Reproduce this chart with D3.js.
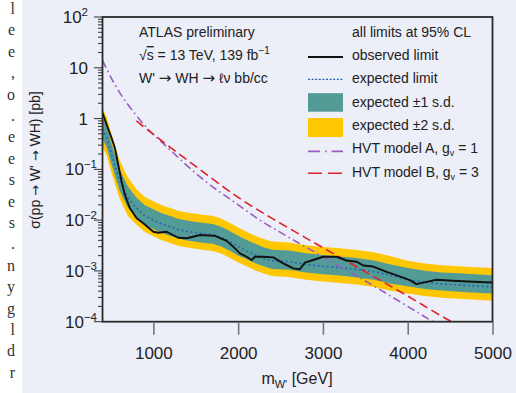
<!DOCTYPE html>
<html lang="en">
<head>
<meta charset="UTF-8">
<title>W' to WH limits</title>
<style>
  body { margin: 0; background: #fff; }
  svg { display: block; font-family: "Liberation Sans", Arial, sans-serif; }
</style>
</head>
<body>
<div id="chart"></div>
<script src="https://d3js.org/d3.v7.min.js"></script>
<script>
// expected limit + bands (pb)
const massGrid = [400, 450, 500, 550, 600, 650, 700, 800, 900, 1000, 1100, 1200, 1300, 1400, 1500, 1600, 1700, 1800, 1900, 2000,
  2100, 2200, 2300, 2400, 2600, 2800, 3000, 3200, 3400, 3600, 3800, 4000, 4200, 4400, 4600, 4800, 5000];
const expected = [0.63, 0.425, 0.214, 0.114, 0.0617, 0.0407, 0.0277, 0.0172, 0.0122, 0.0100, 0.0084, 0.0074, 0.0065, 0.0060, 0.0057, 0.0054, 0.0052, 0.0046, 0.0038, 0.00305,
  0.00245, 0.00206, 0.00177, 0.00158, 0.00152, 0.00134, 0.00124, 0.00116, 0.00108, 0.00097, 0.00081, 0.00067, 0.00060, 0.00055, 0.00053, 0.000505, 0.000485];
const plus1 = [1.05, 0.705, 0.355, 0.189, 0.102, 0.0676, 0.046, 0.0279, 0.0197, 0.0163, 0.0136, 0.0120, 0.0105, 0.0098, 0.0092, 0.00875, 0.0084, 0.00745, 0.00614, 0.00494,
  0.00407, 0.00341, 0.00294, 0.00262, 0.00252, 0.00222, 0.00206, 0.00193, 0.00179, 0.00161, 0.00134, 0.00114, 0.00101, 0.00093, 0.00090, 0.00086, 0.00082];
const minus1 = [0.40, 0.268, 0.135, 0.072, 0.0389, 0.0257, 0.0175, 0.0114, 0.00804, 0.00664, 0.00556, 0.00489, 0.0043, 0.00399, 0.00375, 0.00356, 0.00343, 0.00303, 0.0025, 0.00201,
  0.0017, 0.00142, 0.00123, 0.00109, 0.00105, 0.00093, 0.00086, 0.00081, 0.00074, 0.00067, 0.00056, 0.00050, 0.00044, 0.00041, 0.00039, 0.00037, 0.00036];
const plus2 = [1.58, 1.07, 0.537, 0.286, 0.155, 0.102, 0.0697, 0.0404, 0.0285, 0.0236, 0.0197, 0.0173, 0.0152, 0.0142, 0.0133, 0.0126, 0.0122, 0.0108, 0.00887, 0.00714,
  0.00589, 0.00493, 0.00426, 0.00378, 0.00364, 0.00321, 0.00297, 0.00279, 0.00258, 0.00232, 0.00194, 0.00158, 0.0014, 0.00129, 0.00124, 0.00118, 0.00114];
const minus2 = [0.275, 0.185, 0.0933, 0.0498, 0.0269, 0.0178, 0.0121, 0.00824, 0.00582, 0.00481, 0.00403, 0.00354, 0.00311, 0.00289, 0.00272, 0.00258, 0.00248, 0.0022, 0.00181, 0.00146,
  0.00123, 0.00103, 0.00089, 0.00079, 0.00076, 0.00067, 0.00062, 0.00058, 0.00054, 0.000485, 0.000405, 0.00036, 0.00032, 0.000295, 0.000284, 0.000271, 0.00026];

// observed limit
const obsMass = [400, 450, 508, 547, 586, 626, 665, 724, 803, 881, 999, 1058, 1157, 1294, 1393, 1550, 1726, 1864, 1942, 2021, 2100, 2159, 2198,
  2296, 2414, 2532, 2650, 2728, 2787, 2885, 3003, 3161, 3279, 3397, 3475, 3593, 3751, 3946, 4025, 4104, 4222, 4340, 4536, 4772, 5000];
const observed = [1.3, 0.75, 0.41, 0.26, 0.122, 0.057, 0.031, 0.0171, 0.0109, 0.0087, 0.0059, 0.00565, 0.0059, 0.0045, 0.0044, 0.0051, 0.0049, 0.0039, 0.0030, 0.00222, 0.0019, 0.00164, 0.0019,
  0.0019, 0.00185, 0.00141, 0.00112, 0.00108, 0.00146, 0.00164, 0.0019, 0.0019, 0.0016, 0.00152, 0.00128, 0.00122, 0.00096, 0.00074, 0.00066, 0.00055, 0.00061, 0.00067, 0.00064, 0.00061, 0.00059];

// HVT theory curves
const hvtAMass = [400, 536, 842, 1200, 1550, 2000, 2257, 2493, 3000, 3319, 4000, 4297, 4500];
const hvtA = [14, 5.0, 0.94, 0.24, 0.071, 0.020, 0.010, 0.0058, 0.0019, 0.00095, 0.0002, 0.0001, 0.000063];
const hvtBMass = [800, 1000, 1526, 2045, 2493, 3319, 4000, 4518, 4700];
const hvtB = [0.9, 0.49, 0.106, 0.025, 0.0088, 0.00143, 0.00032, 0.0001, 0.00007];

const xTicks = [1000, 2000, 3000, 4000, 5000];
const yMajor = [-4, -3, -2, -1, 0, 1, 2];
const legendLabels = ["all limits at 95% CL", "observed limit", "expected limit", "expected \u00b11 s.d.", "expected \u00b12 s.d.", "HVT model A, g", "HVT model B, g"];
const pageText = ["l", "e", "e", ",", "o", ".", "e", "e", "s", "e", "s", ".", "n", "y", "g", "l", "d", "r"];

const width = 516, height = 393;
const pLeft = 102.5, pRight = 492.5, pTop = 17, pBottom = 321.7;

const teal = "#529b96", yellow = "#ffc702", blue = "#2664b4", red = "#e0232b", purple = "#9a5cc0";

const svg = d3.select("#chart").append("svg")
  .attr("width", width)
  .attr("height", height);

// writes a string into a text node, arrows taken from DejaVu (Liberation's are tiny)
function withArrows(sel, str, arrowSize) {
  str.split("\u2192").forEach((part, i) => {
    if (i > 0) sel.append("tspan").attr("font-family", "'DejaVu Sans', sans-serif")
      .attr("font-size", arrowSize).text("\u2192");
    sel.append("tspan").text(part);
  });
}

// page background + white strip with bits of the paper text
svg.append("rect").attr("width", width).attr("height", height).attr("fill", "#fff");
svg.append("rect").attr("x", 22).attr("width", width - 22).attr("height", height).attr("fill", "#eceef8");
svg.append("g")
  .attr("font-family", "'Liberation Serif', 'DejaVu Serif', serif")
  .attr("font-size", 16)
  .attr("fill", "#333")
  .attr("text-anchor", "end")
  .selectAll("text")
  .data(pageText)
  .join("text")
  .attr("x", 15)
  .attr("y", (d, i) => 14 + i * 21.4)
  .text(d => d);

const x = d3.scaleLinear().domain([400, 5000]).range([pLeft, pRight]);
const y = d3.scaleLog().domain([1e-4, 1e2]).range([pBottom, pTop]);

svg.append("clipPath").attr("id", "clip")
  .append("rect").attr("x", pLeft).attr("y", pTop).attr("width", pRight - pLeft).attr("height", pBottom - pTop);

const plot = svg.append("g").attr("clip-path", "url(#clip)");
const idx = d3.range(massGrid.length);

const band = (lo, hi) => d3.area()
  .x(i => x(massGrid[i]))
  .y0(i => y(lo[i]))
  .y1(i => y(hi[i]));

plot.append("path").attr("d", band(minus2, plus2)(idx)).attr("fill", yellow);
plot.append("path").attr("d", band(minus1, plus1)(idx)).attr("fill", teal);

const line = (ms, vs, curve) => d3.line()
  .x(i => x(ms[i]))
  .y(i => y(vs[i]))
  .curve(curve || d3.curveLinear)(d3.range(ms.length));

plot.append("path")
  .attr("d", line(massGrid, expected))
  .attr("fill", "none").attr("stroke", blue).attr("stroke-width", 1.6)
  .attr("stroke-dasharray", "2,2.6");

plot.append("path")
  .attr("d", line(hvtAMass, hvtA, d3.curveMonotoneX))
  .attr("fill", "none").attr("stroke", purple).attr("stroke-width", 1.6)
  .attr("stroke-dasharray", "8,3.5,1.6,3.5");

plot.append("path")
  .attr("d", line(hvtBMass, hvtB, d3.curveMonotoneX))
  .attr("fill", "none").attr("stroke", red).attr("stroke-width", 1.6)
  .attr("stroke-dasharray", "9,4.5");

plot.append("path")
  .attr("d", line(obsMass, observed))
  .attr("fill", "none").attr("stroke", "#111").attr("stroke-width", 1.9)
  .attr("stroke-linejoin", "round");

// frame
svg.append("rect")
  .attr("x", pLeft).attr("y", pTop).attr("width", pRight - pLeft).attr("height", pBottom - pTop)
  .attr("fill", "none").attr("stroke", "#2a2a2a").attr("stroke-width", 1.8);

// x axis
const xAxis = svg.append("g")
  .attr("transform", `translate(0,${pBottom})`)
  .call(d3.axisBottom(x).tickValues(xTicks).tickSize(13).tickPadding(12).tickFormat(d3.format("d")));
xAxis.select(".domain").remove();
xAxis.selectAll(".tick line").attr("stroke", "#777").attr("stroke-width", 1.6);
xAxis.selectAll(".tick text")
  .attr("font-size", 17).attr("fill", "#222")
  .attr("font-family", "'Liberation Sans', Arial, sans-serif");

// y axis: major + minor ticks by hand from the log scale
const yAxis = svg.append("g");
yAxis.selectAll("line")
  .data(y.ticks())
  .join("line")
  .attr("x1", d => {
    const m = d / Math.pow(10, Math.floor(Math.log10(d) + 1e-9));
    return Math.abs(m - 1) < 1e-6 ? pLeft - 8.5 : pLeft - 4.5;
  })
  .attr("x2", pLeft)
  .attr("y1", d => y(d)).attr("y2", d => y(d))
  .attr("stroke", "#333").attr("stroke-width", 1);

const yLab = yAxis.selectAll("text")
  .data(yMajor)
  .join("text")
  .attr("x", k => k < 0 ? 97 : 88)
  .attr("y", k => y(Math.pow(10, k)) + 6)
  .attr("text-anchor", "end")
  .attr("font-size", 17)
  .attr("fill", "#222");
yLab.append("tspan").text(k => k === 0 ? "1" : "10");
yLab.filter(k => k !== 0 && k !== 1)
  .append("tspan")
  .attr("font-size", 11.5)
  .attr("dy", -7)
  .text(k => k < 0 ? "\u2212" + (-k) : String(k));

// axis titles
const xt = svg.append("text")
  .attr("x", 297).attr("y", 384)
  .attr("text-anchor", "middle")
  .attr("font-size", 16).attr("fill", "#222");
xt.append("tspan").text("m");
xt.append("tspan").attr("font-size", 11).attr("dy", 4).text("W'");
xt.append("tspan").attr("dy", -4).text(" [GeV]");

const yt = svg.append("text")
  .attr("transform", "translate(40,160) rotate(-90)")
  .attr("text-anchor", "middle")
  .attr("font-size", 14).attr("fill", "#222");
withArrows(yt, "\u03c3(pp \u2192 W' \u2192 WH) [pb]", 13);

// top-left labels
const info = svg.append("g").attr("font-size", 14).attr("fill", "#222");
info.append("text").attr("x", 139).attr("y", 37).text("ATLAS preliminary");
const s2 = info.append("text").attr("x", 139).attr("y", 60);
s2.append("tspan").text("\u221a");
s2.append("tspan").style("text-decoration", "overline").text("s");
s2.append("tspan").text(" = 13 TeV, 139 fb");
s2.append("tspan").attr("font-size", 10).attr("dy", -6).text("\u22121");
withArrows(info.append("text").attr("x", 139).attr("y", 83), "W' \u2192 WH \u2192 \u2113\u03bd bb/cc", 15);

// legend
const legendY = i => 36.7 + i * 23.33;
const lg = svg.append("g").attr("font-size", 14).attr("fill", "#222");
const lt = lg.selectAll("text")
  .data(legendLabels)
  .join("text")
  .attr("x", 352)
  .attr("y", (d, i) => legendY(i))
  .text(d => d);
lt.filter((d, i) => i >= 5).append("tspan").attr("font-size", 9).attr("dy", 3).text("v");
lt.filter((d, i) => i >= 5).append("tspan").attr("dy", -3).text((d, i) => i === 0 ? " = 1" : " = 3");

const sx0 = 308, sx1 = 343;
lg.append("line").attr("x1", sx0).attr("x2", sx1).attr("y1", legendY(1) - 3).attr("y2", legendY(1) - 3)
  .attr("stroke", "#111").attr("stroke-width", 1.9);
lg.append("line").attr("x1", sx0).attr("x2", sx1).attr("y1", legendY(2) - 4).attr("y2", legendY(2) - 4)
  .attr("stroke", blue).attr("stroke-width", 1.4).attr("stroke-dasharray", "2,1.6");
lg.append("rect").attr("x", sx0).attr("y", legendY(3) - 13.5).attr("width", sx1 - sx0).attr("height", 18.5).attr("fill", teal);
lg.append("rect").attr("x", sx0).attr("y", legendY(4) - 12).attr("width", sx1 - sx0).attr("height", 19).attr("fill", yellow);
lg.append("line").attr("x1", sx0).attr("x2", sx1).attr("y1", legendY(5) - 2).attr("y2", legendY(5) - 2)
  .attr("stroke", purple).attr("stroke-width", 1.6).attr("stroke-dasharray", "12,5,1.6,5");
lg.append("line").attr("x1", sx0).attr("x2", sx1).attr("y1", legendY(6) - 3.5).attr("y2", legendY(6) - 3.5)
  .attr("stroke", red).attr("stroke-width", 1.6).attr("stroke-dasharray", "14,6");
</script>
</body>
</html>
